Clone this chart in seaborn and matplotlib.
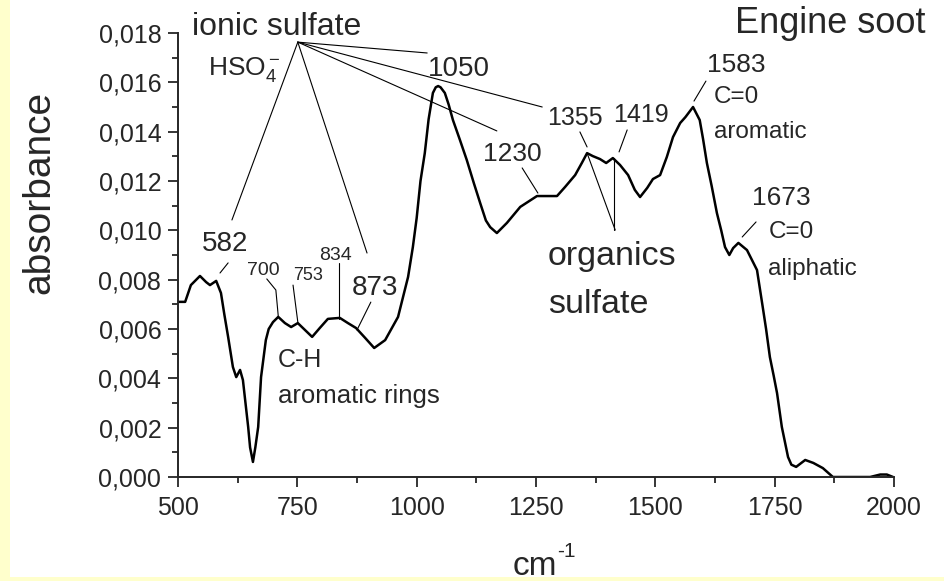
import matplotlib

matplotlib.use("Agg")
import matplotlib.pyplot as plt
import seaborn as sns
import numpy as np
from matplotlib.patches import Rectangle

# spectrum
wavenumber = [500, 515, 527, 546, 559, 567, 580, 590, 597, 605, 615, 622, 630,
              636, 647, 651, 657, 662, 668, 674, 684, 690, 699, 710, 724, 737,
              751, 766, 781, 797, 814, 839, 856, 873, 892, 911, 934, 961, 982,
              992, 1000, 1008, 1017, 1025, 1034, 1040, 1045, 1050, 1059, 1067,
              1076, 1090, 1105, 1120, 1133, 1145, 1154, 1168, 1189, 1217,
              1252, 1294, 1311, 1332, 1346, 1357, 1369, 1384, 1397, 1411,
              1426, 1443, 1457, 1468, 1483, 1495, 1510, 1524, 1537, 1552,
              1563, 1579, 1593, 1600, 1608, 1618, 1629, 1638, 1646, 1655,
              1663, 1674, 1692, 1713, 1725, 1732, 1740, 1748, 1755, 1765,
              1778, 1785, 1795, 1814, 1831, 1851, 1872, 1950, 1971, 1985, 1998]
absorbance = [0.0071, 0.0071, 0.00778, 0.00815, 0.0079, 0.00778, 0.00795,
              0.00746, 0.0066, 0.00568, 0.00446, 0.00405, 0.00434, 0.00393,
              0.00203, 0.0012, 0.00061, 0.0012, 0.00203, 0.00405, 0.00555,
              0.0060, 0.00628, 0.00649, 0.00624, 0.00608, 0.00624, 0.00596,
              0.00568, 0.00604, 0.00641, 0.00645, 0.00624, 0.00604, 0.00564,
              0.00523, 0.00555, 0.00649, 0.00811, 0.00932, 0.0105, 0.0120,
              0.01313, 0.0145, 0.01557, 0.0158, 0.01585, 0.0158, 0.01557,
              0.0151, 0.01447, 0.0137, 0.01285, 0.0119, 0.01111, 0.0104,
              0.01013, 0.00989, 0.0103, 0.01095, 0.01139, 0.01139, 0.01176,
              0.01224, 0.01273, 0.01313, 0.01301, 0.01289, 0.01273, 0.01293,
              0.01265, 0.01224, 0.01164, 0.01135, 0.01172, 0.01208, 0.01224,
              0.01297, 0.01378, 0.01435, 0.01459, 0.0150, 0.01447, 0.0137,
              0.01273, 0.0118, 0.0107, 0.0100, 0.00932, 0.0090, 0.00928,
              0.00949, 0.0092, 0.00839, 0.00689, 0.0060, 0.00486, 0.0041,
              0.0034, 0.00203, 0.00081, 0.0005, 0.00041, 0.00069, 0.00057,
              0.00036, 0.0, 0.0, 0.0001, 0.0001, 0.0]

x_ticks = [500, 750, 1000, 1250, 1500, 1750, 2000]
y_ticks = [0.0, 0.002, 0.004, 0.006, 0.008, 0.010, 0.012, 0.014, 0.016, 0.018]
y_tick_labels = ["0,000", "0,002", "0,004", "0,006", "0,008", "0,010",
                 "0,012", "0,014", "0,016", "0,018"]

# "ionic sulfate" fan of lines
ionic_apex = (751, 0.01763)
ionic_ends_x = [613, 896, 1022, 1263, 1168]
ionic_ends_y = [0.01042, 0.00908, 0.01719, 0.0150, 0.01403]

# short leader lines (x list, y list)
leaders = [
    ([588, 605], [0.00827, 0.00868]),
    ([686, 705, 710], [0.00803, 0.00758, 0.00653]),
    ([741, 751], [0.00778, 0.00628]),
    ([837, 837], [0.00868, 0.0064]),
    ([904, 875], [0.00709, 0.00596]),
    ([1221, 1254], [0.01253, 0.01151]),
    ([1342, 1357], [0.01399, 0.01338]),
    ([1357, 1416], [0.01313, 0.01001]),
    ([1413, 1413], [0.01293, 0.01001]),
    ([1441, 1424], [0.01407, 0.01318]),
    ([1606, 1581], [0.01605, 0.01524]),
    ([1711, 1682], [0.01034, 0.00973]),
]

# labels: (text, x, y, size)
labels = [
    ("ionic sulfate", 529, 0.01792, 23),
    (r"HSO$_4^-$", 563, 0.0163, 19),
    ("1050", 1024, 0.01626, 20),
    ("Engine soot", 1667, 0.0180, 26),
    ("1583", 1608, 0.01642, 19),
    ("C=0", 1623, 0.01516, 17.5),
    ("aromatic", 1623, 0.01374, 17.5),
    ("1355", 1273, 0.01427, 18),
    ("1419", 1411, 0.01439, 18),
    ("1230", 1139, 0.01281, 19),
    ("organics", 1275, 0.00859, 24.5),
    ("sulfate", 1275, 0.00665, 24.5),
    ("1673", 1703, 0.01103, 19),
    ("C=0", 1737, 0.00969, 17.5),
    ("aliphatic", 1737, 0.00819, 17.5),
    ("582", 550, 0.00916, 20),
    ("700", 645, 0.00819, 14),
    ("753", 741, 0.00799, 13),
    ("834", 795, 0.0088, 14),
    ("873", 865, 0.00738, 20),
    ("C-H", 710, 0.00446, 18),
    ("aromatic rings", 710, 0.0030, 18.5),
]

sns.set_style("ticks")
plt.rcParams["font.family"] = ["Liberation Sans", "DejaVu Sans"]
plt.rcParams["mathtext.fontset"] = "custom"
plt.rcParams["mathtext.rm"] = "Liberation Sans"
plt.rcParams["mathtext.it"] = "Liberation Sans:italic"
plt.rcParams["mathtext.bf"] = "Liberation Sans:bold"

fig = plt.figure(figsize=(9.45, 5.81), dpi=100)
fig.patch.set_facecolor("#ffffcc")
fig.add_artist(Rectangle((10 / 945, 4 / 581), 1, 1, transform=fig.transFigure,
                         facecolor="white", edgecolor="none", zorder=-1))
ax = fig.add_axes([178 / 945, 1 - 477 / 581, 716 / 945, 444 / 581])
ax.set_facecolor("none")

sns.lineplot(x=wavenumber, y=absorbance, color="black", linewidth=1.8, ax=ax)

for ex, ey in zip(ionic_ends_x, ionic_ends_y):
    ax.plot([ionic_apex[0], ex], [ionic_apex[1], ey], color="black", lw=0.8)
for lx, ly in leaders:
    ax.plot(lx, ly, color="black", lw=0.8)

for txt, tx, ty, fs in labels:
    ax.text(tx, ty, txt, fontsize=fs, ha="left", va="baseline")

ax.set_xlim(500, 2000)
ax.set_ylim(0, 0.018)
ax.set_xticks(x_ticks)
ax.set_xticks(np.arange(625, 2000, 250), minor=True)
ax.set_yticks(y_ticks)
ax.set_yticklabels(y_tick_labels)
ax.set_yticks(np.arange(0.001, 0.018, 0.002), minor=True)
ax.tick_params(which="major", length=7, width=1.3, labelsize=18, pad=5)
ax.tick_params(which="minor", length=4, width=1.3)
ax.tick_params(axis="x", pad=7)
sns.despine(ax=ax)
for s in ["left", "bottom"]:
    ax.spines[s].set_linewidth(1.4)

ax.set_ylabel("absorbance", fontsize=28)
ax.yaxis.set_label_coords(-0.168, 0.642)
# x label "cm-1" with a plain hyphen in the superscript
ax.text((513 - 178) / 716, (477 - 575) / 444, "cm", transform=ax.transAxes,
        fontsize=24, ha="left", va="baseline")
ax.text((557 - 178) / 716, (477 - 557) / 444, "-1", transform=ax.transAxes,
        fontsize=15, ha="left", va="baseline")

fig.savefig("out.png", dpi=100, facecolor=fig.get_facecolor())
